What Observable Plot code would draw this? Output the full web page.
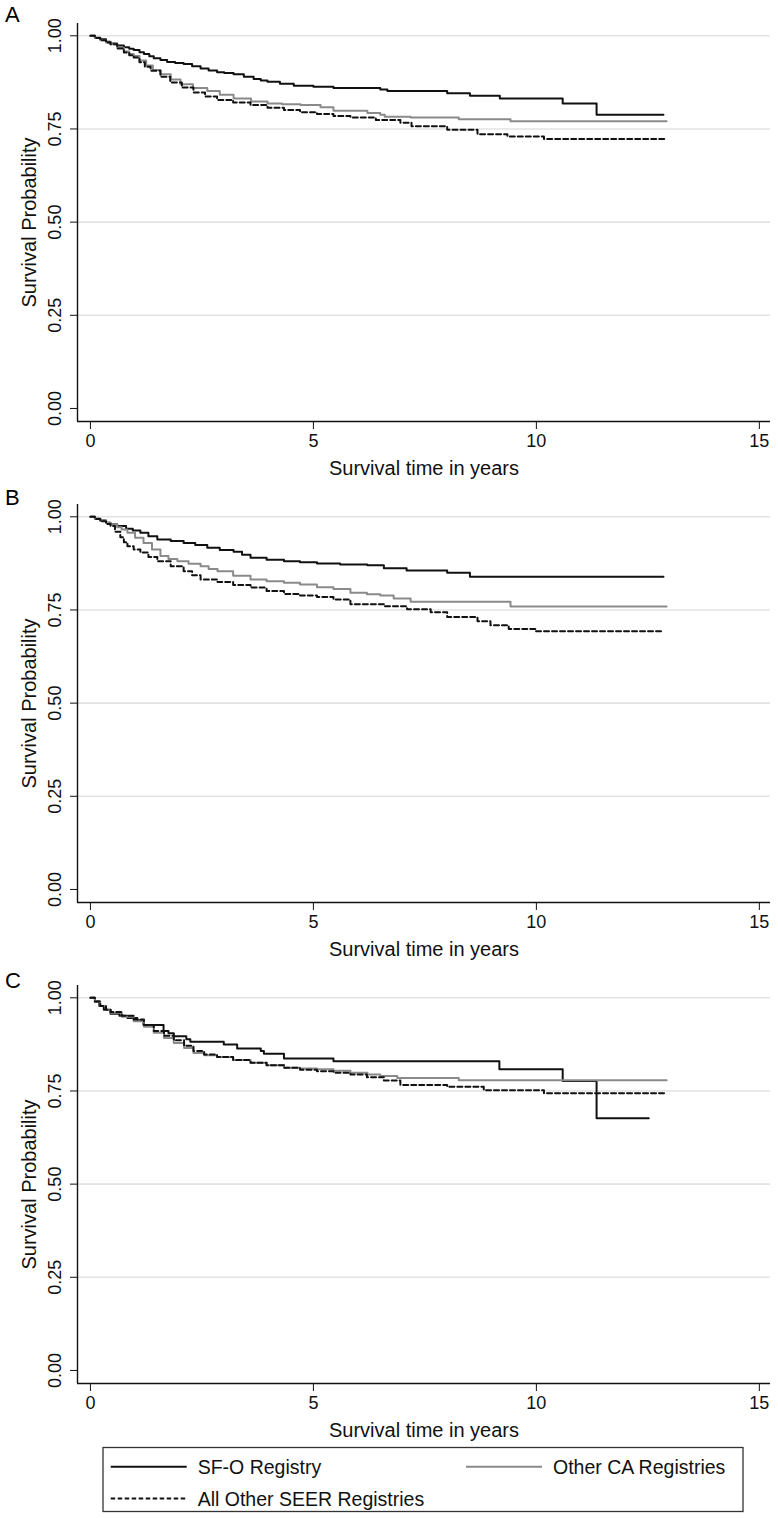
<!DOCTYPE html>
<html><head><meta charset="utf-8">
<script src="https://cdn.jsdelivr.net/npm/d3@7"></script>
<script src="https://cdn.jsdelivr.net/npm/@observablehq/plot@0.6"></script>
<style>
body{margin:0;background:#fff;font-family:"Liberation Sans",Arial,sans-serif;}
#wrap{position:relative;width:778px;height:1518px;overflow:hidden;}
.panel{position:absolute;left:0;width:778px;height:481px;}
.letter{position:absolute;left:5px;font-size:22px;line-height:1;color:#000;}
svg [aria-label="x-axis label"], svg [aria-label="y-axis label"]{font-size:20px !important;}
#legend{position:absolute;left:0;top:1440px;}
</style></head>
<body><div id="wrap"></div>
<script>
// Kaplan-Meier estimates: [years, survival probability]
const panels = ["A", "B", "C"];
const seriesNames = ["SF-O Registry", "Other CA Registries", "All Other SEER Registries"];

const A_sfo = [[0,1],[0.1,0.995],[0.22,0.991],[0.35,0.984],[0.45,0.979],[0.6,0.974],[0.75,0.969],[0.87,0.965],[0.97,0.962],[1.1,0.956],[1.2,0.951],[1.32,0.945],[1.42,0.94],[1.57,0.935],[1.72,0.93],[1.9,0.927],[2.09,0.924],[2.28,0.918],[2.47,0.912],[2.65,0.907],[2.84,0.902],[3.0,0.9],[3.21,0.897],[3.44,0.89],[3.66,0.884],[3.82,0.88],[3.97,0.877],[4.25,0.871],[4.56,0.866],[5.0,0.863],[5.45,0.86],[6.5,0.856],[6.66,0.852],[8.0,0.846],[8.51,0.839],[9.18,0.832],[10.59,0.818],[11.35,0.788],[12.85,0.788]];
const A_ca = [[0,1],[0.1,0.994],[0.22,0.988],[0.35,0.982],[0.45,0.977],[0.6,0.968],[0.75,0.958],[0.87,0.951],[0.97,0.946],[1.1,0.934],[1.25,0.92],[1.4,0.908],[1.57,0.897],[1.8,0.883],[2.02,0.87],[2.3,0.86],[2.62,0.852],[2.9,0.842],[3.21,0.832],[3.6,0.824],[3.97,0.818],[4.3,0.816],[4.71,0.814],[5.16,0.808],[5.45,0.799],[6.21,0.793],[6.5,0.788],[6.6,0.783],[7.18,0.781],[8.26,0.776],[9.42,0.771],[12.92,0.771]];
const A_seer = [[0,1],[0.1,0.994],[0.22,0.988],[0.35,0.982],[0.45,0.977],[0.6,0.966],[0.75,0.955],[0.87,0.948],[0.97,0.942],[1.1,0.929],[1.22,0.917],[1.35,0.906],[1.57,0.89],[1.79,0.875],[2.05,0.861],[2.31,0.848],[2.57,0.837],[2.84,0.828],[3.2,0.821],[3.59,0.814],[3.97,0.807],[4.34,0.801],[4.7,0.795],[5.08,0.79],[5.45,0.785],[5.83,0.781],[6.4,0.774],[6.95,0.767],[7.2,0.757],[8.0,0.748],[8.68,0.736],[9.35,0.73],[10.17,0.723],[12.92,0.723]];

const B_sfo = [[0,1],[0.1,0.995],[0.22,0.99],[0.35,0.984],[0.45,0.98],[0.6,0.975],[0.8,0.968],[0.95,0.963],[1.12,0.957],[1.3,0.948],[1.5,0.939],[1.8,0.935],[2.09,0.93],[2.35,0.924],[2.62,0.917],[2.9,0.911],[3.21,0.906],[3.4,0.898],[3.59,0.89],[3.95,0.885],[4.34,0.881],[4.7,0.878],[5.08,0.875],[5.6,0.872],[6.21,0.87],[6.58,0.862],[7.09,0.856],[8.0,0.85],[8.51,0.839],[12.85,0.839]];
const B_ca = [[0,1],[0.1,0.995],[0.22,0.99],[0.35,0.984],[0.45,0.98],[0.6,0.972],[0.7,0.966],[0.83,0.957],[1.0,0.944],[1.19,0.93],[1.38,0.912],[1.57,0.895],[1.75,0.887],[1.95,0.881],[2.2,0.874],[2.47,0.867],[2.65,0.86],[2.85,0.854],[3.2,0.842],[3.59,0.832],[3.95,0.827],[4.34,0.823],[4.7,0.818],[5.08,0.811],[5.45,0.806],[5.83,0.796],[6.2,0.792],[6.5,0.789],[6.8,0.781],[7.18,0.772],[9.42,0.759],[12.92,0.759]];
const B_seer = [[0,1],[0.1,0.994],[0.22,0.988],[0.35,0.981],[0.45,0.975],[0.55,0.96],[0.67,0.945],[0.75,0.932],[0.83,0.921],[0.97,0.912],[1.12,0.904],[1.3,0.892],[1.5,0.881],[1.8,0.867],[2.09,0.854],[2.28,0.843],[2.47,0.832],[2.85,0.825],[3.2,0.817],[3.59,0.81],[3.95,0.801],[4.34,0.793],[4.7,0.789],[5.08,0.785],[5.45,0.778],[5.83,0.765],[6.58,0.76],[7.1,0.752],[7.63,0.744],[8.0,0.731],[8.68,0.72],[8.97,0.709],[9.38,0.699],[9.98,0.693],[12.86,0.693]];

const C_sfo = [[0,1],[0.1,0.99],[0.2,0.978],[0.3,0.968],[0.45,0.957],[0.65,0.952],[0.83,0.946],[1.05,0.94],[1.19,0.927],[1.64,0.911],[1.75,0.905],[1.87,0.897],[2.15,0.889],[2.24,0.882],[2.99,0.875],[3.29,0.864],[3.82,0.857],[3.89,0.85],[4.34,0.837],[5.45,0.83],[9.17,0.808],[10.59,0.777],[11.35,0.677],[12.52,0.677]];
const C_ca = [[0,1],[0.1,0.99],[0.22,0.978],[0.35,0.967],[0.45,0.96],[0.7,0.949],[0.97,0.937],[1.2,0.922],[1.42,0.906],[1.65,0.892],[1.87,0.879],[2.1,0.865],[2.31,0.852],[2.55,0.846],[2.84,0.841],[3.2,0.833],[3.59,0.826],[3.95,0.819],[4.34,0.812],[4.7,0.81],[5.08,0.808],[5.45,0.804],[5.83,0.799],[6.21,0.794],[6.5,0.79],[6.88,0.785],[8.26,0.779],[12.92,0.779]];
const C_seer = [[0,1],[0.1,0.99],[0.22,0.978],[0.35,0.968],[0.45,0.962],[0.7,0.952],[0.97,0.942],[1.2,0.927],[1.42,0.911],[1.65,0.898],[1.87,0.886],[2.1,0.871],[2.31,0.857],[2.55,0.848],[2.84,0.841],[3.2,0.833],[3.59,0.826],[3.95,0.819],[4.34,0.812],[4.7,0.807],[5.08,0.803],[5.45,0.799],[5.83,0.794],[6.2,0.787],[6.58,0.778],[6.95,0.766],[8.0,0.761],[8.82,0.752],[10.17,0.744],[12.92,0.744]];

const xTicks = [0, 5, 10, 15];
const yTicks = [0, 0.25, 0.5, 0.75, 1];
const gridTicks = [0.25, 0.5, 0.75, 1];
const xTitle = "Survival time in years";
const yTitle = "Survival Probability";

const panelData = {A: [A_sfo, A_ca, A_seer], B: [B_sfo, B_ca, B_seer], C: [C_sfo, C_ca, C_seer]};
const styles = [
  {stroke: "#111", strokeWidth: 2},
  {stroke: "#8a8a8a", strokeWidth: 2},
  {stroke: "#111", strokeWidth: 2, strokeDasharray: "5,3"}
];
const xDomain = [-0.29, 15.25];
const yDomain = [-0.035, 1.033];
const font = "'Liberation Sans', Arial, sans-serif";

const wrap = document.getElementById("wrap");
const letterTops = {A: 4, B: 487, C: 970};

panels.forEach((p, i) => {
  const div = document.createElement("div");
  div.className = "panel";
  div.style.top = (i * 481) + "px";
  const marks = [
    Plot.ruleY(gridTicks, {stroke: "#e3e3e3", strokeWidth: 1.6}),
    ...panelData[p].map((arr, j) => Plot.line(arr.map(([t, s]) => ({t, s, series: seriesNames[j]})),
      {x: "t", y: "s", curve: "step-after", ...styles[j]})),
    Plot.ruleX([xDomain[0]], {stroke: "#111", strokeWidth: 1.4}),
    Plot.ruleY([yDomain[0]], {stroke: "#111", strokeWidth: 1.4}),
    Plot.axisX({ticks: xTicks, tickSize: 8, tickPadding: 5, fontSize: 18, stroke: "#111",
      label: xTitle, labelAnchor: "center", labelArrow: "none", labelOffset: 53}),
    Plot.axisY({ticks: yTicks, tickFormat: d3.format(".2f"), tickSize: 7, tickPadding: 10, tickRotate: -90,
      fontSize: 18, stroke: "#111", label: yTitle, labelAnchor: "center", labelArrow: "none", labelOffset: 56})
  ];
  const chart = Plot.plot({
    width: 778, height: 481,
    marginTop: 23, marginBottom: 60, marginLeft: 77, marginRight: 8,
    x: {domain: xDomain},
    y: {domain: yDomain},
    style: {fontFamily: font, background: "white", color: "#111", overflow: "visible"},
    marks
  });
  div.appendChild(chart);
  wrap.appendChild(div);
  const letter = document.createElement("div");
  letter.className = "letter";
  letter.style.top = letterTops[p] + "px";
  letter.textContent = p;
  wrap.appendChild(letter);
});

// legend
const lg = d3.select(wrap).append("svg").attr("id", "legend").attr("width", 778).attr("height", 78)
  .style("font-family", font);
lg.append("rect").attr("x", 103).attr("y", 7.5).attr("width", 640).attr("height", 64)
  .attr("fill", "none").attr("stroke", "#333").attr("stroke-width", 1.3);
const legendItems = [
  {name: seriesNames[0], x: 110.7, y: 26.7, style: styles[0]},
  {name: seriesNames[1], x: 466, y: 26.7, style: styles[1]},
  {name: seriesNames[2], x: 110.7, y: 58.5, style: {...styles[2], strokeDasharray: "4.5,2.5"}}
];
legendItems.forEach(d => {
  lg.append("line").attr("x1", d.x).attr("x2", d.x + 76).attr("y1", d.y).attr("y2", d.y)
    .attr("stroke", d.style.stroke).attr("stroke-width", d.style.strokeWidth)
    .attr("stroke-dasharray", d.style.strokeDasharray || null);
  lg.append("text").attr("x", d.x + 87).attr("y", d.y + 7).attr("font-size", 19.5).attr("fill", "#111").text(d.name);
});
</script>
</body></html>
